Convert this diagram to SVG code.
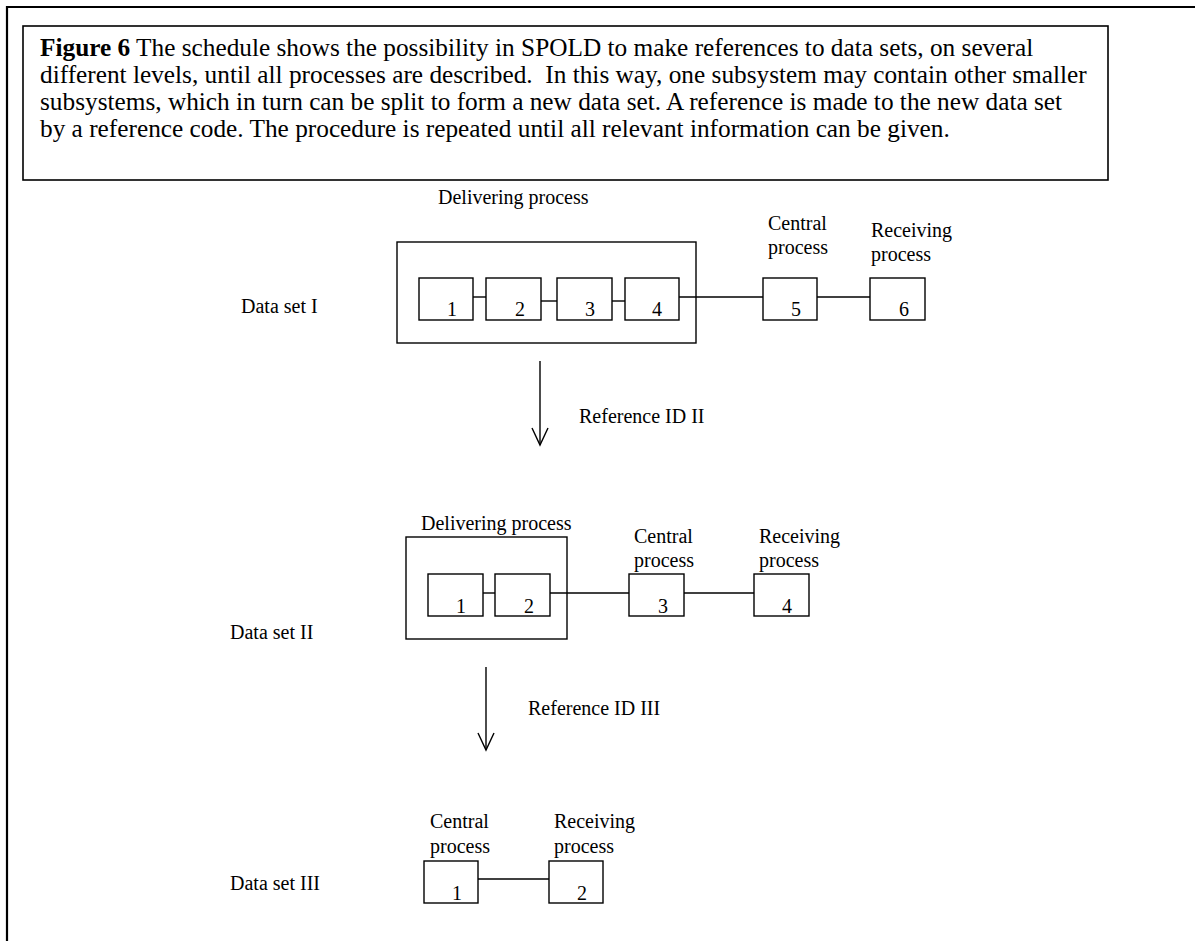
<svg xmlns="http://www.w3.org/2000/svg" width="1195" height="941" viewBox="0 0 1195 941">
  <style>
    text { font-family: "Liberation Serif", "Times New Roman", serif; fill: #000; }
    .cap { font-size: 25.3px; }
    .lbl { font-size: 20px; }
    .frame { fill: none; stroke: #000; stroke-width: 2.2; }
    .capbox { fill: none; stroke: #000; stroke-width: 1.6; }
    .box { fill: #fff; stroke: #000; stroke-width: 1.4; }
    .grp { fill: none; stroke: #000; stroke-width: 1.4; }
    .wire { fill: none; stroke: #000; stroke-width: 1.4; }
  </style>
  <defs>
    <!-- open V arrowhead, drawn along +x so orient="auto" turns it with the line -->
    <marker id="vhead" viewBox="0 0 20 20" refX="18" refY="10" markerWidth="20" markerHeight="20" markerUnits="userSpaceOnUse" orient="auto">
      <path d="M1,2 L18,10 L1,18" fill="none" stroke="#000" stroke-width="1.4"/>
    </marker>
  </defs>

  <!-- page frame (open to the right and bottom) -->
  <path class="frame" d="M7,945 L7,7 L1200,7"/>

  <!-- caption -->
  <g id="caption">
    <rect class="capbox" x="23" y="26" width="1085" height="154"/>
    <text class="cap" x="40" y="56" xml:space="preserve"><tspan font-weight="bold">Figure 6</tspan> The schedule shows the possibility in SPOLD to make references to data sets, on several</text>
    <text class="cap" x="40" y="83" xml:space="preserve">different levels, until all processes are described.  In this way, one subsystem may contain other smaller</text>
    <text class="cap" x="40" y="110" xml:space="preserve">subsystems, which in turn can be split to form a new data set. A reference is made to the new data set</text>
    <text class="cap" x="40" y="137" xml:space="preserve">by a reference code. The procedure is repeated until all relevant information can be given.</text>
  </g>

  <!-- connectors -->
  <g id="connectors">
    <!-- data set I -->
    <line class="wire" x1="473" y1="297" x2="486" y2="297"/>
    <line class="wire" x1="541" y1="301" x2="557" y2="301"/>
    <line class="wire" x1="612" y1="301" x2="625" y2="301"/>
    <line class="wire" x1="679" y1="297" x2="763" y2="297"/>
    <line class="wire" x1="817" y1="297" x2="870" y2="297"/>
    <!-- data set II -->
    <line class="wire" x1="483" y1="593" x2="495" y2="593"/>
    <line class="wire" x1="550" y1="593" x2="629" y2="593"/>
    <line class="wire" x1="684" y1="593" x2="754" y2="593"/>
    <!-- data set III -->
    <line class="wire" x1="478" y1="879" x2="549" y2="879"/>
    <!-- reference arrows -->
    <line class="wire" x1="540" y1="361" x2="540" y2="445" marker-end="url(#vhead)"/>
    <line class="wire" x1="486" y1="667" x2="486" y2="750" marker-end="url(#vhead)"/>
  </g>

  <!-- data set I -->
  <g id="dataset-1">
    <text class="lbl" x="241" y="313">Data set I</text>
  </g>
  <g id="delivering-1">
    <text class="lbl" x="438" y="204">Delivering process</text>
    <rect class="grp" x="397" y="242" width="299" height="101"/>
  </g>
  <g id="p1-1"><rect class="box" x="419" y="278" width="54" height="42"/><text class="lbl" x="452" y="316" text-anchor="middle">1</text></g>
  <g id="p1-2"><rect class="box" x="486" y="278" width="55" height="42"/><text class="lbl" x="520" y="316" text-anchor="middle">2</text></g>
  <g id="p1-3"><rect class="box" x="557" y="278" width="55" height="42"/><text class="lbl" x="590" y="316" text-anchor="middle">3</text></g>
  <g id="p1-4"><rect class="box" x="625" y="278" width="54" height="42"/><text class="lbl" x="657" y="316" text-anchor="middle">4</text></g>
  <g id="p1-5">
    <text class="lbl" x="768" y="230">Central</text>
    <text class="lbl" x="768" y="254">process</text>
    <rect class="box" x="763" y="278" width="54" height="42"/><text class="lbl" x="796" y="316" text-anchor="middle">5</text>
  </g>
  <g id="p1-6">
    <text class="lbl" x="871" y="237">Receiving</text>
    <text class="lbl" x="871" y="261">process</text>
    <rect class="box" x="870" y="278" width="55" height="42"/><text class="lbl" x="904" y="316" text-anchor="middle">6</text>
  </g>
  <g id="ref-2">
    <text class="lbl" x="579" y="423">Reference ID II</text>
  </g>

  <!-- data set II -->
  <g id="dataset-2">
    <text class="lbl" x="230" y="639">Data set II</text>
  </g>
  <g id="delivering-2">
    <text class="lbl" x="421" y="530">Delivering process</text>
    <rect class="grp" x="406" y="537" width="161" height="102"/>
  </g>
  <g id="p2-1"><rect class="box" x="428" y="574" width="55" height="42"/><text class="lbl" x="461" y="613" text-anchor="middle">1</text></g>
  <g id="p2-2"><rect class="box" x="495" y="574" width="55" height="42"/><text class="lbl" x="529" y="613" text-anchor="middle">2</text></g>
  <g id="p2-3">
    <text class="lbl" x="634" y="543">Central</text>
    <text class="lbl" x="634" y="567">process</text>
    <rect class="box" x="629" y="574" width="55" height="42"/><text class="lbl" x="663" y="613" text-anchor="middle">3</text>
  </g>
  <g id="p2-4">
    <text class="lbl" x="759" y="543">Receiving</text>
    <text class="lbl" x="759" y="567">process</text>
    <rect class="box" x="754" y="574" width="55" height="42"/><text class="lbl" x="787" y="613" text-anchor="middle">4</text>
  </g>
  <g id="ref-3">
    <text class="lbl" x="528" y="715">Reference ID III</text>
  </g>

  <!-- data set III -->
  <g id="dataset-3">
    <text class="lbl" x="230" y="890">Data set III</text>
  </g>
  <g id="p3-1">
    <text class="lbl" x="430" y="828">Central</text>
    <text class="lbl" x="430" y="853">process</text>
    <rect class="box" x="424" y="861" width="54" height="42"/><text class="lbl" x="457" y="900" text-anchor="middle">1</text>
  </g>
  <g id="p3-2">
    <text class="lbl" x="554" y="828">Receiving</text>
    <text class="lbl" x="554" y="853">process</text>
    <rect class="box" x="549" y="861" width="54" height="42"/><text class="lbl" x="582" y="900" text-anchor="middle">2</text>
  </g>
</svg>
